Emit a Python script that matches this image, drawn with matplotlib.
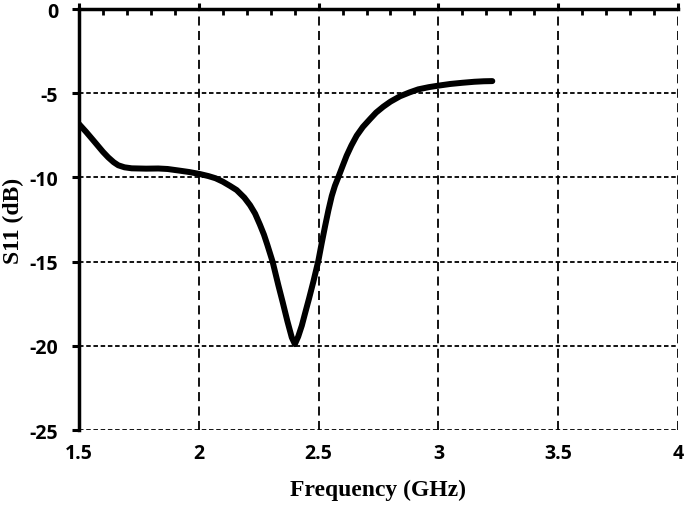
import matplotlib.pyplot as plt
from matplotlib.ticker import MultipleLocator

plt.rcParams["axes.unicode_minus"] = False

# S11 curve
freq = [1.500, 1.530, 1.567, 1.600, 1.622, 1.645, 1.664, 1.690, 1.720, 1.780,
        1.831, 1.870, 1.921, 1.960, 2.005, 2.040, 2.070, 2.100, 2.130, 2.158,
        2.190, 2.214, 2.235, 2.255, 2.272, 2.286, 2.308, 2.332, 2.350, 2.370,
        2.388, 2.401, 2.415, 2.430, 2.443, 2.460, 2.478, 2.499, 2.513, 2.527,
        2.541, 2.555, 2.568, 2.582, 2.600, 2.617, 2.637, 2.659, 2.685, 2.715,
        2.740, 2.770, 2.800, 2.840, 2.880, 2.916, 2.960, 3.000, 3.050, 3.100,
        3.150, 3.190, 3.225]
s11 = [-6.83, -7.30, -7.92, -8.48, -8.81, -9.10, -9.28, -9.40, -9.46, -9.48,
       -9.47, -9.50, -9.60, -9.68, -9.80, -9.92, -10.05, -10.25, -10.50, -10.75,
       -11.20, -11.65, -12.15, -12.80, -13.40, -14.00, -15.00, -16.40, -17.40, -18.55,
       -19.50, -19.90, -19.45, -18.80, -18.10, -17.20, -16.20, -14.95, -13.90, -12.90,
       -11.95, -11.10, -10.50, -10.00, -9.33, -8.71, -8.10, -7.52, -7.00, -6.53,
       -6.15, -5.80, -5.50, -5.18, -4.95, -4.77, -4.64, -4.55, -4.45, -4.38,
       -4.32, -4.29, -4.28]

x_ticks = [1.5, 2, 2.5, 3, 3.5, 4]
x_labels = ["1.5", "2", "2.5", "3", "3.5", "4"]
y_ticks = [0, -5, -10, -15, -20, -25]

fig = plt.figure(figsize=(6.85, 5.06), dpi=100)
ax = fig.add_axes([0.1153, 0.1482, 0.8745, 0.832])

# grid
for xv in x_ticks[1:]:
    ax.axvline(xv, color="black", lw=1.3, ls=(0, (5, 3)), zorder=1)
for yv in y_ticks[1:]:
    ax.axhline(yv, color="black", lw=1.3, ls=(0, (2.5, 1.5)), zorder=1)

ax.plot(freq, s11, color="black", lw=4.3, solid_capstyle="round",
        solid_joinstyle="round", zorder=3)

ax.set_xlim(1.5, 4)
ax.set_ylim(-25, 0)

ax.spines["right"].set_visible(False)
ax.spines["bottom"].set_visible(False)
ax.spines["top"].set_linewidth(2.5)
ax.spines["left"].set_linewidth(2.5)
for s in ax.spines.values():
    s.set_zorder(4)

ax.set_xticks(x_ticks)
ax.set_xticklabels(x_labels)
ax.xaxis.set_minor_locator(MultipleLocator(0.1))
ax.set_yticks(y_ticks)

ax.tick_params(axis="x", which="both", bottom=False, top=True,
               labelbottom=True, labeltop=False)
ax.tick_params(axis="x", which="major", direction="out", length=4, width=2.2, pad=5)
ax.tick_params(axis="x", which="minor", direction="in", length=4, width=2)
ax.tick_params(axis="y", which="major", direction="out", length=5, width=2.2, pad=10)

for lab in ax.get_xticklabels() + ax.get_yticklabels():
    lab.set_fontfamily("Open Sans")
    lab.set_fontweight("bold")
    lab.set_fontsize(14)

ax.set_xlabel("Frequency (GHz)", family="Liberation Serif", weight="bold",
              fontsize=17, labelpad=12)
ax.set_ylabel("S11 (dB)", family="Liberation Serif", weight="bold",
              fontsize=17, labelpad=4)

fig.savefig("out.png", dpi=100)
plt.close(fig)
